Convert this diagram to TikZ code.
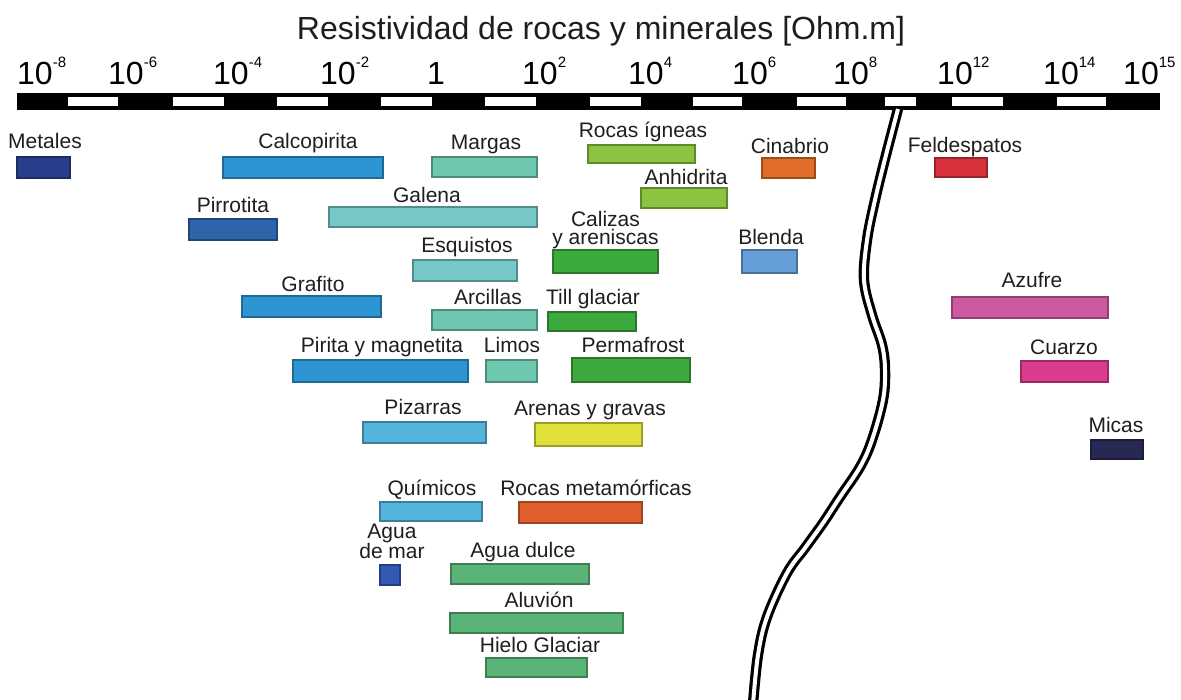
\documentclass[tikz,border=0pt]{standalone}
\usepackage{fontspec}
\setmainfont{Liberation Sans}
\usetikzlibrary{calc}

\definecolor{azulosc}{RGB}{40,62,140}
\definecolor{azulmed}{RGB}{45,100,170}
\definecolor{azul}{RGB}{45,150,210}
\definecolor{celeste}{RGB}{85,180,220}
\definecolor{azulclaro}{RGB}{100,160,215}
\definecolor{turq}{RGB}{120,200,200}
\definecolor{aguam}{RGB}{110,200,175}
\definecolor{verdeam}{RGB}{140,195,65}
\definecolor{verde}{RGB}{60,170,60}
\definecolor{verdeag}{RGB}{90,180,120}
\definecolor{naranja}{RGB}{225,110,40}
\definecolor{naranjaosc}{RGB}{225,95,45}
\definecolor{rojo}{RGB}{215,50,60}
\definecolor{rosa}{RGB}{205,90,160}
\definecolor{fucsia}{RGB}{220,60,140}
\definecolor{marino}{RGB}{40,40,85}
\definecolor{amarillo}{RGB}{225,225,60}
\definecolor{aguamar}{RGB}{50,90,180}
\definecolor{texto}{RGB}{30,30,30}

\newcommand\pot[1]{\raisebox{17pt}{\fontsize{15}{15}\selectfont #1}}

\begin{document}
\begin{tikzpicture}[x=1pt, y=-1pt,
    box/.style={draw=#1!70!black, fill=#1, line width=1.2pt, inner sep=0, minimum height=20pt},
    lbl/.style={anchor=base, text=texto, inner sep=0, font=\fontsize{21}{17}\selectfont},
    tick/.style={anchor=base west, text=black, inner sep=0, font=\fontsize{32}{32}\selectfont},
    brk/.style={line width=3.2pt, double=white, double distance=4pt}]
    \useasboundingbox (0, 0) rectangle (1181, 700);

    % titulo y escala
    \node[anchor=base, text=texto, font=\fontsize{32}{32}\selectfont] (titulo) at (601, 40) {Resistividad de rocas y minerales [Ohm.m]};
    \fill (17, 93) rectangle (1160, 110);
    \foreach \a/\b in {68/118, 173/224, 277/328, 381/432, 485/536, 590/641, 693/742, 797/846, 885/916, 952/1003, 1057/1106}
        \fill[white] (\a, 97) rectangle (\b, 106.5);
    \node[tick] (t1) at (17, 85) {10\pot{-8}};
    \node[tick] (t2) at (108, 85) {10\pot{-6}};
    \node[tick] (t3) at (213, 85) {10\pot{-4}};
    \node[tick] (t4) at (320, 85) {10\pot{-2}};
    \node[tick] (t5) at (427, 85) {1};
    \node[tick] (t6) at (522, 85) {10\pot{2}};
    \node[tick] (t7) at (628, 85) {10\pot{4}};
    \node[tick] (t8) at (732, 85) {10\pot{6}};
    \node[tick] (t9) at (833, 85) {10\pot{8}};
    \node[tick] (t10) at (937, 85) {10\pot{12}};
    \node[tick] (t11) at (1043, 85) {10\pot{14}};
    \node[tick] (t12) at (1123, 85) {10\pot{15}};

    % corte de la escala
    \draw[brk] plot[smooth, tension=.6] coordinates {(898, 109) (886, 155) (875, 200) (867, 240) (864, 280) (872, 315) (882, 345) (885, 370) (883, 400) (872, 440) (860, 467) (840, 497) (823, 523) (805, 548) (787, 573) (767, 617) (758, 655) (753, 704)};

    % rangos
    \node[box=azulosc, minimum width=53pt, minimum height=21pt] (metales) at (43.5, 167.5) {};
    \node[box=azul, minimum width=160pt, minimum height=21pt] (calcopirita) at (303, 167.5) {};
    \node[box=aguam, minimum width=105pt] (margas) at (484.5, 167) {};
    \node[box=verdeam, minimum width=107pt, minimum height=18pt] (rocasig) at (641.5, 154) {};
    \node[box=naranja, minimum width=53pt] (cinabrio) at (788.5, 168) {};
    \node[box=rojo, minimum width=52pt, minimum height=19pt] (feldespatos) at (961, 167.5) {};
    \node[box=verdeam, minimum width=86pt] (anhidrita) at (684, 198) {};
    \node[box=azulmed, minimum width=88pt, minimum height=21pt] (pirrotita) at (233, 229.5) {};
    \node[box=turq, minimum width=208pt] (galena) at (433, 217) {};
    \node[box=verde, minimum width=105pt, minimum height=23pt] (calizas) at (605.5, 261.5) {};
    \node[box=turq, minimum width=104pt, minimum height=21pt] (esquistos) at (465, 270.5) {};
    \node[box=azulclaro, minimum width=55pt, minimum height=23pt] (blenda) at (769.5, 261.5) {};
    \node[box=azul, minimum width=139pt, minimum height=21pt] (grafito) at (311.5, 306.5) {};
    \node[box=aguam, minimum width=105pt] (arcillas) at (484.5, 320) {};
    \node[box=verde, minimum width=88pt, minimum height=19pt] (till) at (592, 321.5) {};
    \node[box=rosa, minimum width=156pt, minimum height=21pt] (azufre) at (1030, 307.5) {};
    \node[box=azul, minimum width=175pt, minimum height=22pt] (pirita) at (380.5, 371) {};
    \node[box=aguam, minimum width=51pt, minimum height=22pt] (limos) at (511.5, 371) {};
    \node[box=verde, minimum width=118pt, minimum height=24pt] (permafrost) at (631, 370) {};
    \node[box=fucsia, minimum width=87pt, minimum height=21pt] (cuarzo) at (1064.5, 371.5) {};
    \node[box=celeste, minimum width=123pt, minimum height=21pt] (pizarras) at (424.5, 432.5) {};
    \node[box=amarillo, minimum width=107pt, minimum height=23pt] (arenas) at (588.5, 434.5) {};
    \node[box=marino, minimum width=52pt, minimum height=19pt] (micas) at (1117, 449.5) {};
    \node[box=celeste, minimum width=102pt, minimum height=19pt] (quimicos) at (431, 511.5) {};
    \node[box=naranjaosc, minimum width=123pt, minimum height=21pt] (rocasmet) at (580.5, 512.5) {};
    \node[box=aguamar, minimum width=20pt] (aguamar) at (390, 575) {};
    \node[box=verdeag, minimum width=138pt] (aguadulce) at (520, 574) {};
    \node[box=verdeag, minimum width=173pt] (aluvion) at (536.5, 623) {};
    \node[box=verdeag, minimum width=101pt, minimum height=19pt] (hielo) at (536.5, 667.5) {};

    % nombres
    \node[lbl] (metales-t) at ($(metales.north) + (1.5, -8)$) {Metales};
    \node[lbl] (calcopirita-t) at ($(calcopirita.north) + (5, -8)$) {Calcopirita};
    \node[lbl] (margas-t) at ($(margas.north) + (1.5, -7)$) {Margas};
    \node[lbl] (rocasig-t) at ($(rocasig.north) + (1.5, -7)$) {Rocas ígneas};
    \node[lbl] (cinabrio-t) at ($(cinabrio.north) + (1.5, -4)$) {Cinabrio};
    \node[lbl] (feldespatos-t) at ($(feldespatos.north) + (4, -5)$) {Feldespatos};
    \node[lbl] (anhidrita-t) at ($(anhidrita.north) + (2, -3)$) {Anhidrita};
    \node[lbl] (pirrotita-t) at ($(pirrotita.north) + (0, -6)$) {Pirrotita};
    \node[lbl] (galena-t) at ($(galena.north) + (-6, -4)$) {Galena};
    \node[lbl] (calizas-t) at ($(calizas.north) + (0, -23)$) {Calizas};
    \node[lbl] (calizas-t2) at ($(calizas.north) + (0, -5)$) {y areniscas};
    \node[lbl] (esquistos-t) at ($(esquistos.north) + (2, -7)$) {Esquistos};
    \node[lbl] (blenda-t) at ($(blenda.north) + (1.5, -5)$) {Blenda};
    \node[lbl] (grafito-t) at ($(grafito.north) + (1.5, -4)$) {Grafito};
    \node[lbl] (arcillas-t) at ($(arcillas.north) + (3.5, -5)$) {Arcillas};
    \node[lbl] (till-t) at ($(till.north) + (1, -7)$) {Till glaciar};
    \node[lbl] (azufre-t) at ($(azufre.north) + (2, -9)$) {Azufre};
    \node[lbl] (pirita-t) at ($(pirita.north) + (1.5, -7)$) {Pirita y magnetita};
    \node[lbl] (limos-t) at ($(limos.north) + (0.5, -7)$) {Limos};
    \node[lbl] (permafrost-t) at ($(permafrost.north) + (2, -5)$) {Permafrost};
    \node[lbl] (cuarzo-t) at ($(cuarzo.north) + (-0.5, -6)$) {Cuarzo};
    \node[lbl] (pizarras-t) at ($(pizarras.north) + (-1.5, -7)$) {Pizarras};
    \node[lbl] (arenas-t) at ($(arenas.north) + (1.5, -7)$) {Arenas y gravas};
    \node[lbl] (micas-t) at ($(micas.north) + (-1, -7)$) {Micas};
    \node[lbl] (quimicos-t) at ($(quimicos.north) + (1, -6)$) {Químicos};
    \node[lbl] (rocasmet-t) at ($(rocasmet.north) + (15.5, -6)$) {Rocas metamórficas};
    \node[lbl, anchor=south, align=center] (aguamar-t) at ($(aguamar.north) + (2, -5)$) {Agua\\de mar};
    \node[lbl] (aguadulce-t) at ($(aguadulce.north) + (3, -6)$) {Agua dulce};
    \node[lbl] (aluvion-t) at ($(aluvion.north) + (2.5, -5)$) {Aluvión};
    \node[lbl] (hielo-t) at ($(hielo.north) + (3.5, -5)$) {Hielo Glaciar};
\end{tikzpicture}
\end{document}
